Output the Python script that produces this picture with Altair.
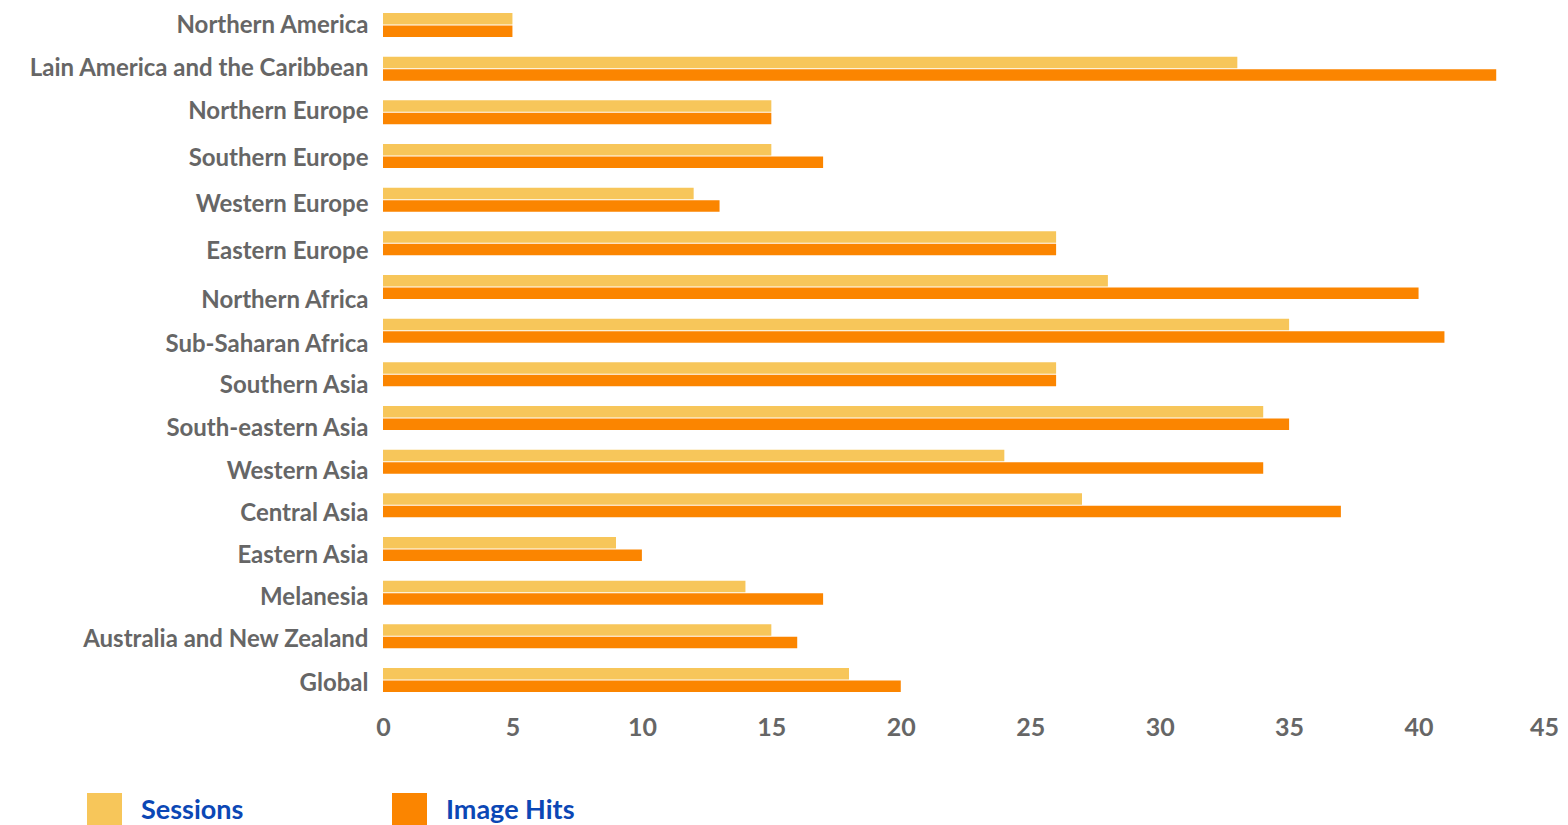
import altair as alt
import pandas as pd

regions = [
    "Northern America", "Lain America and the Caribbean", "Northern Europe",
    "Southern Europe", "Western Europe", "Eastern Europe", "Northern Africa",
    "Sub-Saharan Africa", "Southern Asia", "South-eastern Asia", "Western Asia",
    "Central Asia", "Eastern Asia", "Melanesia", "Australia and New Zealand", "Global",
]
sessions = [5, 33, 15, 15, 12, 26, 28, 35, 26, 34, 24, 27, 9, 14, 15, 18]
image_hits = [5, 43, 15, 17, 13, 26, 40, 41, 26, 35, 34, 37, 10, 17, 16, 20]
series = ["Sessions", "Image Hits"]
colors = ["#F7C65A", "#FB8500"]
x_ticks = [0, 5, 10, 15, 20, 25, 30, 35, 40, 45]

# small vertical nudges of the category labels, as in the reference layout
label_nudge = [1, 0, 0, 3, 5, 9, 14, 14, 12, 11, 10, 9, 7, 5, 4, 4]

rows = []
for r, s, h in zip(regions, sessions, image_hits):
    rows.append({"region": r, "series": series[0], "value": s})
    rows.append({"region": r, "series": series[1], "value": h})
df = pd.DataFrame(rows)

FONT = "Lato"

y_label_offset = {
    "condition": [
        {"test": "datum.label == " + repr(r), "value": n}
        for r, n in zip(regions, label_nudge) if n != 0
    ],
    "value": 0,
}
x_label_offset = {"condition": {"test": "datum.value == 45", "value": -4}, "value": 0}

chart = alt.Chart(df).mark_bar().encode(
    x=alt.X("value:Q",
            scale=alt.Scale(domain=[0, 45], nice=False),
            axis=alt.Axis(values=x_ticks, title=None, grid=False, domain=False,
                          ticks=False, labelFontSize=25, labelFont=FONT,
                          labelFontWeight="bold", labelColor="#666666",
                          labelPadding=18, labelFlush=False,
                          labelOffset=x_label_offset)),
    y=alt.Y("region:N", sort=regions,
            scale=alt.Scale(paddingInner=0.45, paddingOuter=0.1145, round=False),
            axis=alt.Axis(title=None, domain=False, ticks=False, labelFontSize=24,
                          labelFont=FONT, labelFontWeight="bold",
                          labelColor="#666666", labelPadding=15, labelLimit=600,
                          labelOffset=y_label_offset)),
    yOffset=alt.YOffset("series:N", sort=series,
                        scale=alt.Scale(paddingInner=0.08, paddingOuter=0, round=False)),
    color=alt.Color("series:N", sort=series,
                    scale=alt.Scale(domain=series, range=colors),
                    legend=alt.Legend(title=None, orient="none", legendX=-296,
                                      legendY=785, direction="horizontal",
                                      columns=2, symbolType="square",
                                      symbolSize=1225, symbolStrokeWidth=0,
                                      labelFontSize=27, labelFont=FONT,
                                      labelFontWeight="bold", labelColor="#0B47B5",
                                      labelOffset=19, columnPadding=148,
                                      padding=0, symbolOpacity=1)),
).properties(
    width=1165, height=689,
    autosize=alt.AutoSizeParams(type="none"),
    padding={"left": 375, "top": 0, "right": 12, "bottom": 140},
).configure_view(stroke=None)

chart.save("out.html", embed_options={"renderer": "svg", "actions": False})
